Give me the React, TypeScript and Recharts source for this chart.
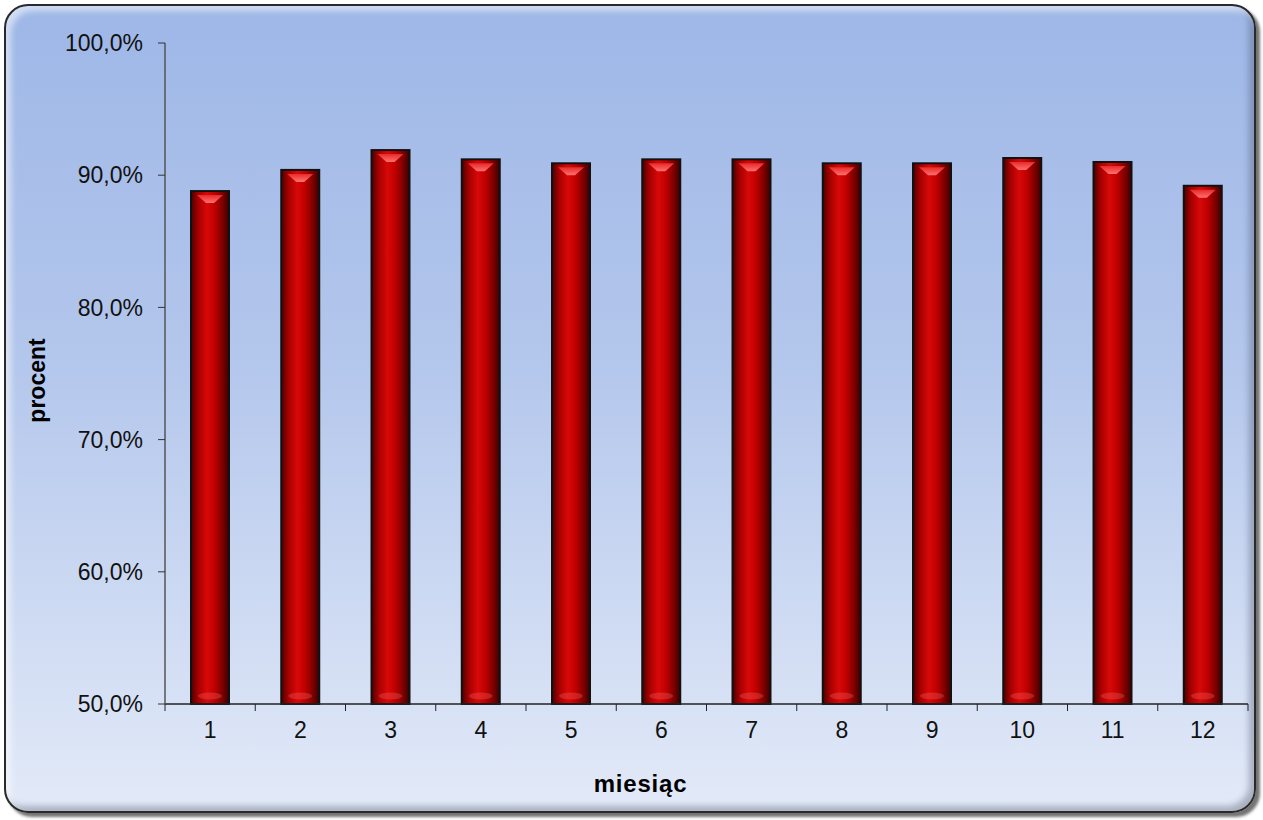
import React from 'react';
import { BarChart, Bar, XAxis, YAxis, Label } from 'recharts';

// monthly share
const months = [1, 2, 3, 4, 5, 6, 7, 8, 9, 10, 11, 12];
const values = [88.8, 90.4, 91.9, 91.2, 90.9, 91.2, 91.2, 90.9, 90.9, 91.3, 91.0, 89.2];
const yTicks = [50, 60, 70, 80, 90, 100];

const data = months.map((m, i) => ({ month: m, value: values[i] }));
// labels sit on the months, tick marks between them (Excel style)
const xTicks = [months[0] - 0.5, ...months.flatMap((m) => [m, m + 0.5])];

const FONT = 'Arial, "Liberation Sans", sans-serif';

const fmtPct = (v: number) => v.toFixed(1).replace('.', ',') + '%';

const MonthTick = (props: any) => {
  const { x, y, payload } = props;
  const v = payload.value;
  if (!Number.isInteger(v)) {
    return <line x1={x} x2={x} y1={y - 7} y2={y} stroke="#222" strokeWidth={1} />;
  }
  return (
    <text x={x} y={y + 27} textAnchor="middle" fill="#111" fontSize={23} fontFamily={FONT}>
      {v}
    </text>
  );
};

const GlossyBar = (props: any) => {
  const { x, y, width, height } = props;
  if (!height || height <= 0) return null;
  const cx = x + width / 2;
  return (
    <g>
      <rect x={x} y={y} width={width} height={height} fill="url(#barBody)" stroke="#111" strokeWidth={2} />
      {/* chevron highlight at the top */}
      <polygon
        points={`${x + 6},${y + 4} ${x + width - 6},${y + 4} ${cx + 4},${y + 12} ${cx - 4},${y + 12}`}
        fill="url(#barTop)"
      />
      {/* soft glow at the bottom */}
      <ellipse cx={cx} cy={y + height - 8} rx={width / 2 - 7} ry={3.5} fill="#ff6a6a" opacity={0.3} />
    </g>
  );
};

const YTitle = (props: any) => {
  const { viewBox } = props;
  const x = viewBox.x + 17;
  const y = viewBox.y + viewBox.height / 2 + 7;
  return (
    <text
      x={x}
      y={y}
      transform={`rotate(-90, ${x}, ${y})`}
      textAnchor="middle"
      dominantBaseline="central"
      fontSize={23}
      fontWeight="bold"
      fill="#000"
      fontFamily={FONT}
    >
      procent
    </text>
  );
};

const App: React.FC = () => {
  return (
    <div style={{ position: 'absolute', left: 0, top: 0, width: 1263, height: 820 }}>
      <div
        style={{
          position: 'absolute',
          left: 4,
          top: 4,
          width: 1248,
          height: 805,
          borderRadius: 24,
          border: '2px solid #2a2a2a',
          background: 'linear-gradient(to bottom, #9eb7e7 0%, #b4c7ec 45%, #e3eaf8 100%)',
          boxShadow:
            'inset 5px 5px 6px rgba(255,255,255,0.55), inset -5px -5px 6px rgba(60,70,90,0.35), 4px 4px 3px rgba(0,0,0,0.55)',
        }}
      />
      <div style={{ position: 'absolute', left: 0, top: 0 }}>
        <BarChart
          width={1263}
          height={820}
          data={data}
          margin={{ top: 43, right: 15, bottom: 0, left: 20 }}
          style={{ fontFamily: FONT }}
        >
          <defs>
            <linearGradient id="barBody" x1="0" y1="0" x2="1" y2="0">
              <stop offset="0%" stopColor="#4a0000" />
              <stop offset="18%" stopColor="#a30000" />
              <stop offset="42%" stopColor="#d80808" />
              <stop offset="62%" stopColor="#c00000" />
              <stop offset="85%" stopColor="#760000" />
              <stop offset="100%" stopColor="#3a0000" />
            </linearGradient>
            <linearGradient id="barTop" x1="0" y1="0" x2="0" y2="1">
              <stop offset="0%" stopColor="#e82a2a" />
              <stop offset="100%" stopColor="#ff7070" />
            </linearGradient>
          </defs>
          <XAxis
            dataKey="month"
            type="number"
            domain={[0.5, 12.5]}
            ticks={xTicks}
            interval={0}
            height={116}
            tickSize={7}
            tickMargin={0}
            tickLine={{ stroke: 'none' }}
            axisLine={{ stroke: '#222', strokeWidth: 1.5 }}
            tick={<MonthTick />}
          >
            <Label
              value="miesiąc"
              position="insideBottom"
              offset={28}
              dx={-66}
              style={{ fontSize: 24, fontWeight: 'bold', fill: '#000', fontFamily: FONT, letterSpacing: 0.8 }}
            />
          </XAxis>
          <YAxis
            type="number"
            domain={[50, 100]}
            ticks={yTicks}
            width={145}
            tickSize={7}
            tickMargin={15}
            tickFormatter={fmtPct}
            tick={{ fontSize: 23, fill: '#111', fontFamily: FONT }}
            tickLine={{ stroke: '#333' }}
            axisLine={{ stroke: '#555', strokeWidth: 1.5 }}
          >
            <Label content={<YTitle />} />
          </YAxis>
          <Bar dataKey="value" barSize={38} shape={<GlossyBar />} isAnimationActive={false} />
        </BarChart>
      </div>
    </div>
  );
};

export default App;
